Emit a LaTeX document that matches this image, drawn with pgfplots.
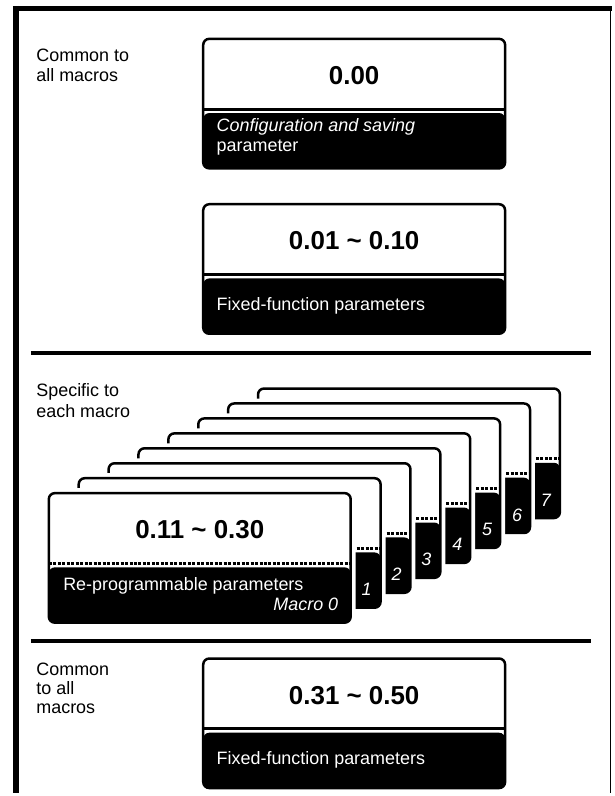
\documentclass[border=0pt]{standalone}
\usepackage{fontspec}
\setmainfont{Liberation Sans}
\usepackage{pgfplots}
\pgfplotsset{compat=1.18}
\newcommand\txt{\fontsize{18}{20}\selectfont}
\newcommand\numf{\fontsize{26}{28}\selectfont\bfseries}
\newcommand\tl{\textasciitilde}
% #1 x0, #2 y0, #3 x1, #4 y1, #5 halo, #6 dashed divider
\newcommand\panel[6]{%
  \pgfmathsetmacro\pyl{#2+70.5}%
  \pgfmathsetmacro\pyb{#2+74.5}%
  \pgfmathsetmacro\pxm{(#1+#3)/2}%
  \ifnum#5=1
    \edef\tmp{\noexpand\addplot[fill=white,draw=white,line width=10pt,rounded corners=8pt] coordinates {(\pxm,#2) (#3,#2) (#3,#4) (#1,#4) (#1,#2) (\pxm,#2)};}\tmp
  \fi
  \edef\tmp{\noexpand\addplot[fill=white,draw=black,line width=2.5pt,rounded corners=6pt] coordinates {(\pxm,#2) (#3,#2) (#3,#4) (#1,#4) (#1,#2) (\pxm,#2)};}\tmp
  \edef\tmp{\noexpand\addplot[fill=black,draw=none,rounded corners=6pt] coordinates {(\pxm,\pyb) (#3,\pyb) (#3,#4) (#1,#4) (#1,\pyb) (\pxm,\pyb)};}\tmp
  \edef\tmp{\noexpand\addplot[black,line width=3pt\ifnum#6=1 ,dash pattern=on 3pt off 1.5pt\fi] coordinates {(#1,\pyl) (#3,\pyl)};}\tmp
}
\begin{document}
\begin{tikzpicture}
\begin{axis}[
  width=614pt, height=796pt, scale only axis,
  xmin=0, xmax=614, ymin=0, ymax=796, y dir=reverse,
  hide axis, clip=false,
  every node/.append style={inner sep=0pt},
]
% frame
\addplot[black, line width=5pt] coordinates {(13,8.5) (614,8.5)};
\addplot[black, line width=6pt] coordinates {(16,6) (16,796)};
\addplot[black, line width=1.5pt] coordinates {(613,8) (613,796)};
% separators
\addplot[black, line width=4pt] coordinates {(31,354) (593,354)};
\addplot[black, line width=4pt] coordinates {(31,643) (593,643)};
% fixed boxes
\panel{204}{39}{507}{169}{0}{0}
\panel{204}{205}{507}{335}{0}{0}
\panel{204}{661}{507}{791}{0}{0}
% macro stack
\panel{259}{390}{562}{520}{1}{1}
\panel{229}{405}{532}{535}{1}{1}
\panel{199}{420}{502}{550}{1}{1}
\panel{169}{435}{472}{565}{1}{1}
\panel{139}{450}{442}{580}{1}{1}
\panel{109}{465}{412}{595}{1}{1}
\panel{79}{480}{382}{610}{1}{1}
\panel{49}{495}{352}{625}{1}{1}
% texts
\node[anchor=base west] at (axis cs:33,61.7) {\txt Common to};
\node[anchor=base west] at (axis cs:33,82) {\txt all macros};
\node[anchor=base west] at (axis cs:33,398) {\txt Specific to};
\node[anchor=base west] at (axis cs:33,419) {\txt each macro};
\node[anchor=base west] at (axis cs:33,678) {\txt Common};
\node[anchor=base west] at (axis cs:33,697) {\txt to all};
\node[anchor=base west] at (axis cs:33,716.5) {\txt macros};
\node at (axis cs:355.5,75.5) {\numf 0.00};
\node[anchor=base west, white] at (axis cs:214,132) {\txt\itshape Configuration and saving};
\node[anchor=base west, white] at (axis cs:214,152) {\txt parameter};
\node at (axis cs:355.5,241.5) {\numf 0.01 \tl{} 0.10};
\node[anchor=base west, white] at (axis cs:214,312) {\txt Fixed-function parameters};
\node at (axis cs:355.5,698) {\numf 0.31 \tl{} 0.50};
\node[anchor=base west, white] at (axis cs:214,767) {\txt Fixed-function parameters};
\node at (axis cs:200.5,532) {\numf 0.11 \tl{} 0.30};
\node[anchor=base west, white] at (axis cs:60,593) {\txt Re-programmable parameters};
\node[anchor=base east, white] at (axis cs:343,613) {\txt\itshape Macro 0};
\node[anchor=base, white] at (axis cs:368,598) {\txt\itshape 1};
\node[anchor=base, white] at (axis cs:398,583) {\txt\itshape 2};
\node[anchor=base, white] at (axis cs:428,568) {\txt\itshape 3};
\node[anchor=base, white] at (axis cs:459,553) {\txt\itshape 4};
\node[anchor=base, white] at (axis cs:489,538) {\txt\itshape 5};
\node[anchor=base, white] at (axis cs:519,523) {\txt\itshape 6};
\node[anchor=base, white] at (axis cs:548,508) {\txt\itshape 7};
\path (rel axis cs:0,0) rectangle (rel axis cs:1,1);
\end{axis}
\end{tikzpicture}
\end{document}
